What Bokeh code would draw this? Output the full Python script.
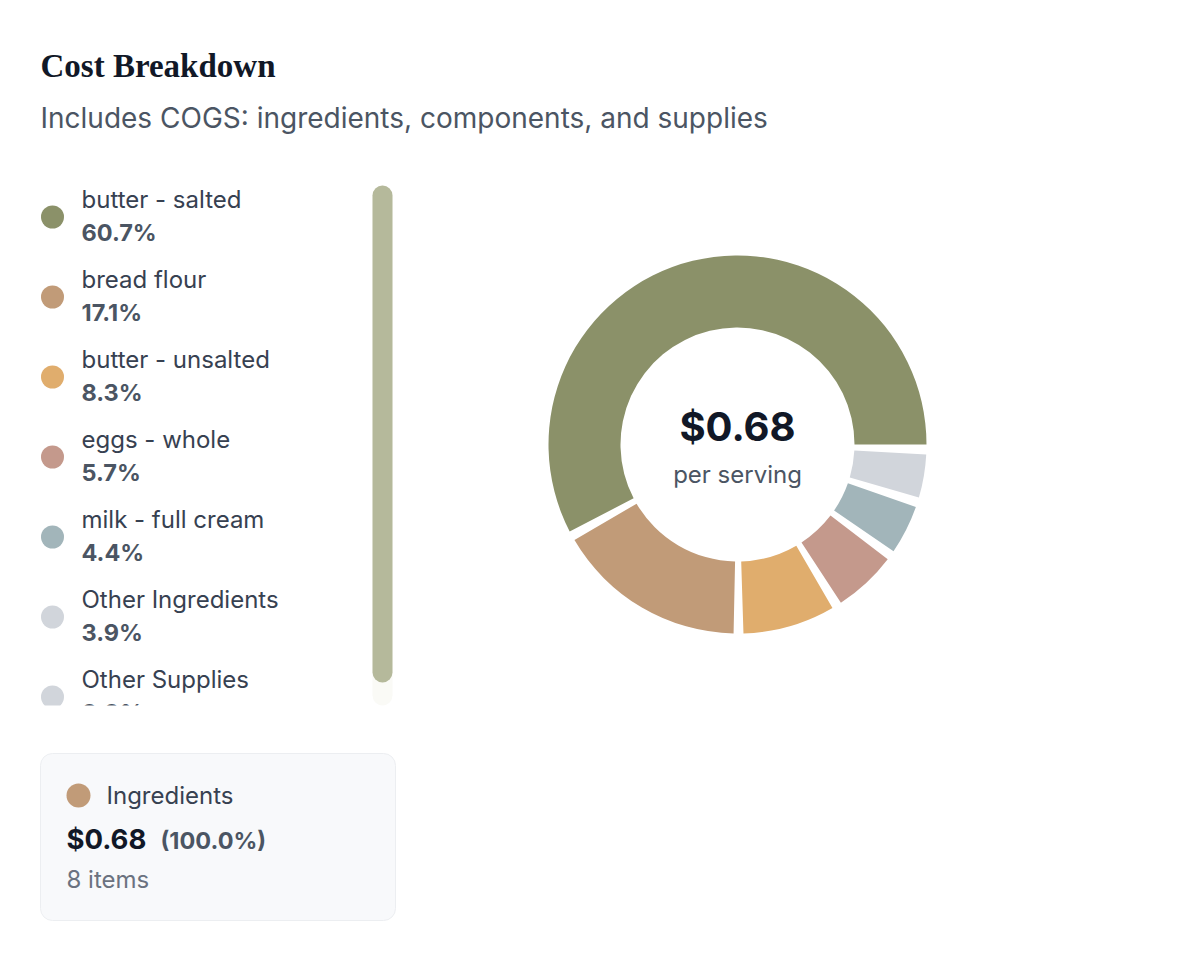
import numpy as np
from bokeh.plotting import figure
from bokeh.models import Range1d, ColumnDataSource
from bokeh.core.properties import value
from bokeh.embed import file_html
from bokeh.resources import INLINE

# ---- data ----
items = ["butter - salted", "bread flour", "butter - unsalted", "eggs - whole",
         "milk - full cream", "Other Ingredients", "Other Supplies"]
shares = [60.7, 17.1, 8.3, 5.7, 4.4, 3.9, 0.0]
colors = ["#8b9169", "#c19b78", "#e0ad6d", "#c4998c", "#a2b5ba", "#d1d5db", "#d1d5db"]
cost_per_serving = 0.68
category_name = "Ingredients"
category_color = "#c19b78"
category_share = 100.0
category_count = 8

SANS = value("Inter")
W, H = 1186, 944


def Y(py):
    # page y (down) -> data y (up)
    return H - py


def TY(baseline, fs):
    # bokeh's alphabetic baseline sits a bit low; compensate
    return H - (baseline - 0.34 * fs)


p = figure(width=W, height=H, x_range=Range1d(0, W), y_range=Range1d(0, H),
           toolbar_location=None, output_backend="svg", min_border=0,
           x_axis_location=None, y_axis_location=None)
p.grid.visible = False
p.outline_line_color = None
p.background_fill_color = "white"

# ---- header ----
p.text(x=[40], y=[TY(77, 33)], text=["Cost Breakdown"], text_font=value("Liberation Serif"),
       text_font_style="bold", text_font_size="33px", text_color="#111827",
       text_baseline="alphabetic")
p.text(x=[40], y=[TY(127, 28)], text=["Includes COGS: ingredients, components, and supplies"],
       text_font=SANS, text_font_size="28px", text_color="#4b5563",
       text_baseline="alphabetic")

# ---- donut (padding angle between non-zero slices) ----
pad = 3.0
vals = np.array(shares, dtype=float)
frac = vals / vals.sum()
nonzero = int((vals > 0).sum())
real_total = 360.0 - nonzero * pad
starts, ends = [], []
prev = 0.0
for i, f in enumerate(frac):
    s = 0.0 if i == 0 else prev + (pad if vals[i] > 0 else 0.0)
    e = s + f * real_total
    starts.append(s)
    ends.append(e)
    prev = e
keep = [i for i in range(len(vals)) if vals[i] > 0]
donut = ColumnDataSource(dict(
    start=[np.radians(starts[i]) for i in keep],
    end=[np.radians(ends[i]) for i in keep],
    color=[colors[i] for i in keep],
))
cx, cy = 737, Y(444)
p.annular_wedge(x=cx, y=cy, inner_radius=117, outer_radius=189,
                inner_radius_units="screen", outer_radius_units="screen",
                start_angle="start", end_angle="end", fill_color="color",
                line_color=None, source=donut)
p.text(x=[cx], y=[TY(440, 40)], text=[f"${cost_per_serving:.2f}"], text_font=SANS,
       text_font_style="bold", text_font_size="40px", text_color="#111827",
       text_align="center", text_baseline="alphabetic")
p.text(x=[cx], y=[TY(482, 24)], text=["per serving"], text_font=SANS,
       text_font_size="24px", text_color="#4b5563",
       text_align="center", text_baseline="alphabetic")

# ---- legend list (scroll box) ----
rows = np.arange(len(items))
leg = ColumnDataSource(dict(
    dot_y=[Y(216.5 + 80 * r) for r in rows],
    name_y=[TY(207 + 80 * r, 24) for r in rows],
    pct_y=[TY(240 + 80 * r, 23.5) for r in rows],
    name=items,
    pct=[f"{s:.1f}%" for s in shares],
    color=colors,
))
p.scatter(x=52, y="dot_y", size=23, fill_color="color", line_color=None, source=leg)
p.text(x=81, y="name_y", text="name", text_font=SANS, text_font_size="24px",
       text_color="#374151", text_baseline="alphabetic", source=leg)
p.text(x=81, y="pct_y", text="pct", text_font=SANS, text_font_style="bold",
       text_font_size="23.5px", text_color="#4b5563", text_baseline="alphabetic",
       source=leg)
# clip the list at the bottom of the scroll box
p.quad(left=20, right=368, top=Y(705), bottom=Y(748), fill_color="white", line_color=None)

# scrollbar track + thumb
p.quad(left=372, right=392, top=Y(185), bottom=Y(705), fill_color="#fafaf6",
       line_color=None, border_radius=10)
p.quad(left=372, right=392, top=Y(185), bottom=Y(682), fill_color="#b5b99b",
       line_color=None, border_radius=10)

# ---- category card ----
p.quad(left=40, right=395, top=Y(753), bottom=Y(920), fill_color="#f8f9fb",
       line_color="#eceef1", line_width=1, border_radius=12)
p.scatter(x=[78], y=[Y(795)], size=24, fill_color=category_color, line_color=None)
p.text(x=[106], y=[TY(803, 24)], text=[category_name], text_font=SANS,
       text_font_size="24px", text_color="#374151", text_baseline="alphabetic")
p.text(x=[66], y=[TY(848, 27.5)], text=[f"${cost_per_serving:.2f}"], text_font=SANS,
       text_font_style="bold", text_font_size="27.5px", text_color="#111827",
       text_baseline="alphabetic")
p.text(x=[160], y=[TY(848, 23.5)], text=[f"({category_share:.1f}%)"], text_font=SANS,
       text_font_style="bold", text_font_size="23.5px", text_color="#4b5563",
       text_baseline="alphabetic")
p.text(x=[66], y=[TY(887, 24)], text=[f"{category_count} items"], text_font=SANS,
       text_font_size="24px", text_color="#6b7280", text_baseline="alphabetic")

open("out.html", "w").write(file_html(p, INLINE))
